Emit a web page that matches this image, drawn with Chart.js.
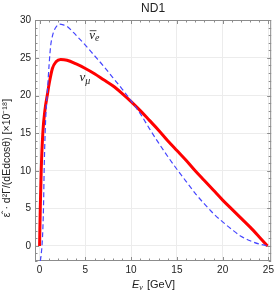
<!DOCTYPE html>
<html>
<head>
<meta charset="utf-8">
<script src="https://cdn.jsdelivr.net/npm/chart.js@4/dist/chart.umd.min.js"></script>
<style>
  html, body { margin: 0; padding: 0; background: #fff; }
  canvas { display: block; }
</style>
</head>
<body>
<canvas id="nd1Chart" width="277" height="294"></canvas>
<script>
const xTicks = [0, 5, 10, 15, 20, 25];
const yTicks = [0, 5, 10, 15, 20, 25, 30];

// nu_mu (red, solid)
const numuE = [0, 0.08, 0.18, 0.36, 0.6, 0.85, 1.05, 1.4, 1.8, 2.3, 3, 4, 5, 6, 7, 8, 9, 10, 11, 12, 13, 14, 15, 16, 17, 18, 19, 20, 21, 22, 23, 24, 24.9];
const numuVal = [0, 5.2, 10.1, 15.1, 18.2, 20.1, 21.6, 23.6, 24.5, 24.8, 24.7, 24.2, 23.6, 22.9, 22.1, 21.3, 20.3, 19.2, 18.0, 16.7, 15.4, 14.0, 12.7, 11.4, 10.0, 8.7, 7.4, 6.1, 4.9, 3.7, 2.5, 1.2, 0];

// anti nu_e (blue, dashed)
const nuebarE = [0.08, 0.15, 0.32, 0.43, 0.5, 0.61, 0.72, 0.85, 1.04, 1.2, 1.4, 1.57, 1.85, 2.2, 2.6, 3, 4, 5, 6, 7, 8, 9, 10, 11, 12, 13, 14, 15, 16, 17, 18, 19, 20, 21, 22, 23, 24, 25];
const nuebarVal = [-2.0, -1.4, 1.2, 5.2, 10.1, 15.1, 18.2, 20.5, 24.1, 26.5, 27.9, 28.6, 29.2, 29.5, 29.4, 29.2, 28.0, 26.7, 25.3, 23.9, 22.4, 20.9, 19.3, 17.6, 15.6, 13.7, 11.9, 10.2, 8.6, 7.0, 5.6, 4.3, 3.2, 2.2, 1.3, 0.7, 0.25, 0];

const zip = (xs, ys) => xs.map((x, i) => ({ x, y: ys[i] }));

const sans = '"Liberation Sans", Arial, sans-serif';
const serif = '"Liberation Serif", "Times New Roman", serif';

const decorations = {
    id: 'decorations',
    beforeDatasetsDraw(chart) {
        const { ctx, chartArea: a, scales: { x, y } } = chart;
        ctx.save();
        ctx.strokeStyle = '#8c8c8c';
        ctx.lineWidth = 1;
        ctx.strokeRect(a.left + 0.5, a.top + 0.5, a.right - a.left - 1, a.bottom - a.top - 1);
        ctx.beginPath();
        for (let v = Math.ceil(x.min); v <= Math.floor(x.max); v++) {
            const p = Math.round(x.getPixelForValue(v)) + 0.5;
            const len = v % 5 === 0 ? 4 : 2.5;
            ctx.moveTo(p, a.bottom); ctx.lineTo(p, a.bottom - len);
            ctx.moveTo(p, a.top); ctx.lineTo(p, a.top + len);
        }
        for (let v = Math.ceil(y.min); v <= Math.floor(y.max); v++) {
            const p = Math.round(y.getPixelForValue(v)) + 0.5;
            const len = v % 5 === 0 ? 4 : 2.5;
            ctx.moveTo(a.left, p); ctx.lineTo(a.left + len, p);
            ctx.moveTo(a.right, p); ctx.lineTo(a.right - len, p);
        }
        ctx.stroke();
        ctx.restore();
    },
    afterDatasetsDraw(chart) {
        const { ctx, chartArea: a, scales: { x, y } } = chart;
        ctx.save();
        ctx.fillStyle = '#222';
        ctx.strokeStyle = '#222';

        // title
        ctx.font = '12px ' + sans;
        ctx.textAlign = 'center';
        ctx.textBaseline = 'alphabetic';
        ctx.fillText('ND1', (a.left + a.right) / 2, 12);

        // x axis title
        ctx.textAlign = 'left';
        ctx.font = 'italic 11px ' + sans;
        let px = 132;
        ctx.fillText('E', px, 288);
        px += ctx.measureText('E').width;
        ctx.font = 'italic 8px ' + serif;
        ctx.fillText('\u03bd', px, 290);
        px += ctx.measureText('\u03bd').width + 1;
        ctx.font = '11px ' + sans;
        ctx.fillText(' [GeV]', px, 288);

        // y axis title
        ctx.save();
        ctx.translate(10, 158);
        ctx.rotate(-Math.PI / 2);
        ctx.textAlign = 'center';
        ctx.font = '10.5px ' + sans;
        ctx.fillText('\u03b5\u0302 \u00b7 d\u00b2\u0393/(dEdcos\u03b8) [\u00d710\u207b\u00b9\u2078]', 0, 0);
        ctx.restore();

        // curve labels
        ctx.font = 'italic 13px ' + serif;
        let lx = x.getPixelForValue(5.42), ly = y.getPixelForValue(27.5);
        ctx.fillText('\u03bd', lx, ly);
        const w = ctx.measureText('\u03bd').width;
        ctx.lineWidth = 0.8;
        ctx.beginPath();
        ctx.moveTo(lx + 0.5, ly - 8.5);
        ctx.lineTo(lx + w + 1.5, ly - 8.5);
        ctx.stroke();
        ctx.font = 'italic 10px ' + serif;
        ctx.fillText('e', lx + w, ly + 1.5);

        ctx.font = 'italic 13px ' + serif;
        lx = x.getPixelForValue(4.35); ly = y.getPixelForValue(21.9);
        ctx.fillText('\u03bd', lx, ly);
        lx += ctx.measureText('\u03bd').width;
        ctx.font = 'italic 10px ' + serif;
        ctx.fillText('\u03bc', lx, ly + 3);
        ctx.restore();
    }
};

new Chart(document.getElementById('nd1Chart'), {
    type: 'scatter',
    data: {
        datasets: [
            {
                label: '\u03bd\u0304e',
                data: zip(nuebarE, nuebarVal),
                showLine: true,
                borderColor: 'rgb(70, 70, 255)',
                borderWidth: 1.2,
                borderDash: [5, 3],
                pointRadius: 0,
                cubicInterpolationMode: 'monotone'
            },
            {
                label: '\u03bd\u03bc',
                data: zip(numuE, numuVal),
                showLine: true,
                borderColor: '#ff0000',
                borderWidth: 3,
                pointRadius: 0,
                cubicInterpolationMode: 'monotone'
            }
        ]
    },
    options: {
        responsive: false,
        animation: false,
        devicePixelRatio: 1,
        layout: { padding: { top: 20, right: 1, left: 0, bottom: 0 } },
        plugins: { legend: { display: false }, tooltip: { enabled: false }, title: { display: false } },
        scales: {
            x: {
                type: 'linear',
                min: -0.5,
                max: 25.3,
                afterBuildTicks: s => { s.ticks = xTicks.map(v => ({ value: v })); },
                afterFit: s => { s.height = 33; },
                grid: { color: '#ececec', drawTicks: false },
                border: { display: false },
                ticks: { padding: 3, color: '#222', font: { family: sans, size: 10 } }
            },
            y: {
                min: -2,
                max: 30.05,
                afterBuildTicks: s => { s.ticks = yTicks.map(v => ({ value: v })); },
                afterFit: s => { s.width = 35; },
                grid: { color: '#ececec', drawTicks: false },
                border: { display: false },
                ticks: { padding: 4, color: '#222', font: { family: sans, size: 10 } }
            }
        }
    },
    plugins: [decorations]
});
</script>
</body>
</html>
